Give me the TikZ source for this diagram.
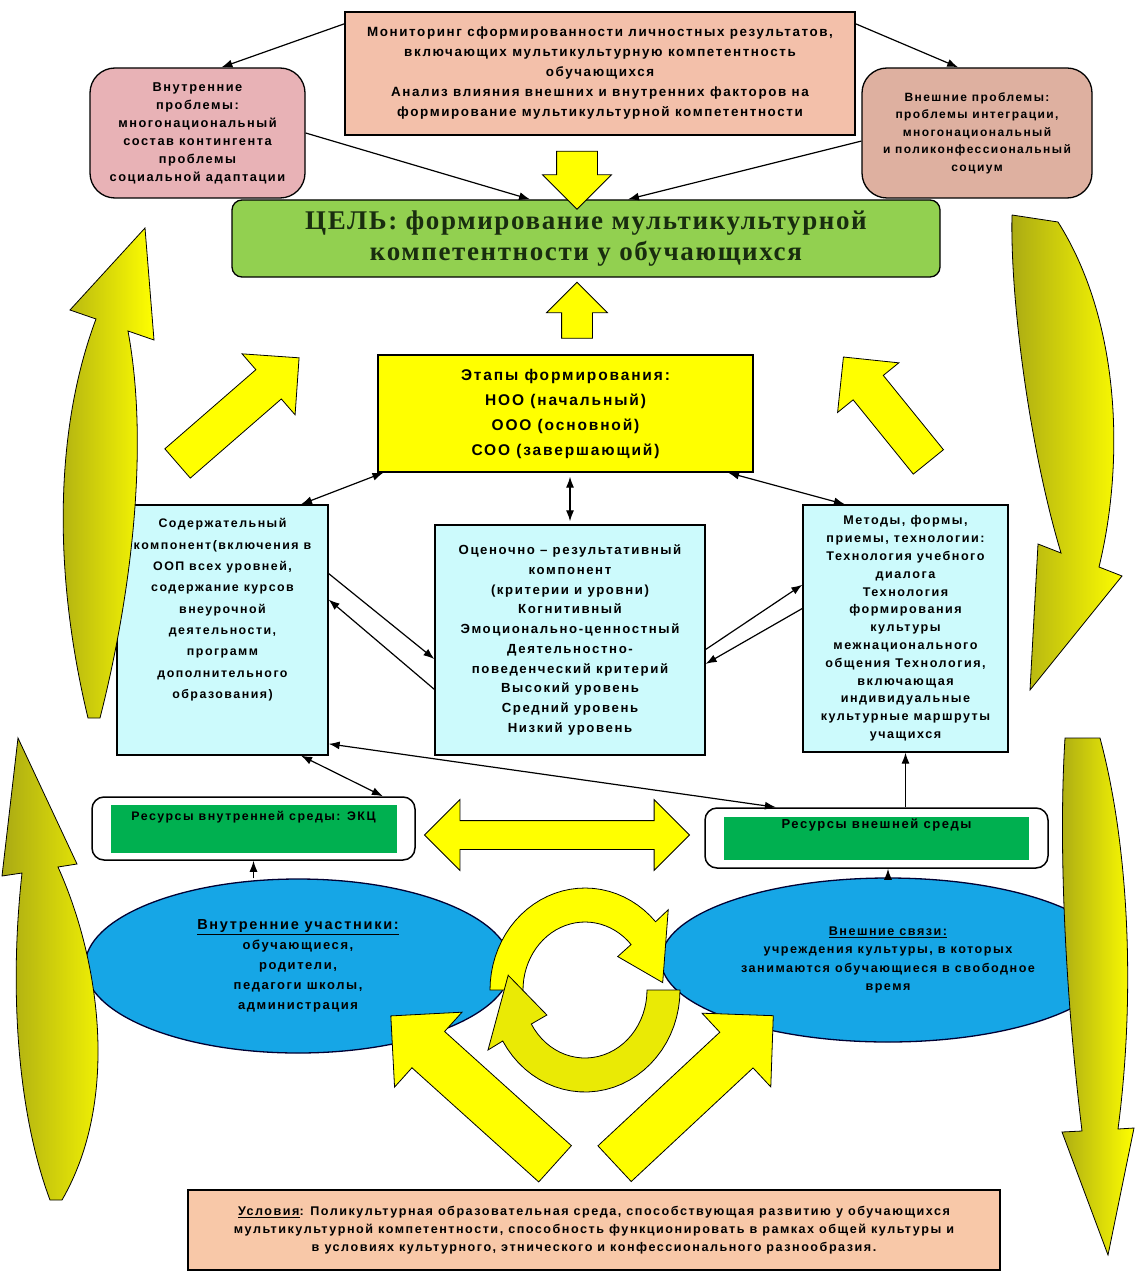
\documentclass[tikz,border=0pt]{standalone}
\usepackage{fontspec}
\setmainfont{Liberation Sans}[LetterSpace=12]
\newfontfamily\goalfont{Liberation Serif}[LetterSpace=6]
\usepackage{tikz}
\usepackage{xcolor}
\usetikzlibrary{positioning,arrows.meta,shapes.geometric,shapes.arrows}

\definecolor{monfill}{RGB}{243,192,170}
\definecolor{probin}{RGB}{232,178,182}
\definecolor{probout}{RGB}{222,176,160}
\definecolor{goalfill}{RGB}{146,208,80}
\definecolor{goaltext}{RGB}{25,45,15}
\definecolor{compfill}{RGB}{204,250,252}
\definecolor{resfill}{RGB}{0,176,80}
\definecolor{partfill}{RGB}{22,166,230}
\definecolor{condfill}{RGB}{248,200,168}
\definecolor{arrowyellow}{RGB}{255,255,0}
\definecolor{bendolive}{RGB}{170,170,20}

\newcommand{\boxfont}[2]{\bfseries\fontsize{#1}{#2}\selectfont}

\begin{document}
\begin{tikzpicture}[x=1pt, y=-1pt,
    box/.style={draw, line width=1.3pt, align=center, inner sep=2pt},
    link/.style={-{Latex[length=11pt, width=8pt]}, line width=1.2pt},
    biglink/.style={{Latex[length=11pt, width=8pt]}-{Latex[length=11pt, width=8pt]}, line width=1.2pt},
    fatarrow/.style={single arrow, draw, line width=0.8pt, fill=arrowyellow, inner xsep=0pt},
    bendarrow/.style={draw, line width=0.8pt, left color=bendolive, right color=arrowyellow},
    ringarrow/.style={draw, line width=0.8pt, fill=arrowyellow}]

    \useasboundingbox (0,0) rectangle (1137,1281);
    \fill[white] (0,0) rectangle (1137,1281);

    % goal and the boxes above it
    \node[box, fill=goalfill, rounded corners=10pt, minimum width=708pt, minimum height=77pt,
          text=goaltext, font={\goalfont\bfseries\fontsize{27}{31}\selectfont}] (goal) at (586,238.5)
          {ЦЕЛЬ: формирование мультикультурной\\ компетентности у обучающихся};

    \node[box, fill=monfill, minimum width=510pt, minimum height=123pt, font={\boxfont{13.4}{20}},
          above of=goal, node distance=165pt, xshift=14pt] (mon_box)
          {Мониторинг сформированности личностных результатов,\\ включающих мультикультурную компетентность\\ обучающихся\\ Анализ влияния внешних и внутренних факторов на\\ формирование мультикультурной компетентности};

    \node[box, fill=probin, rounded corners=25pt, minimum width=215pt, minimum height=130pt, font={\boxfont{12.8}{18}},
          left of=mon_box, node distance=402.5pt, yshift=-59.5pt] (prob_in)
          {Внутренние\\ проблемы:\\ многонациональный\\ состав контингента\\ проблемы\\ социальной адаптации};

    \node[box, fill=probout, rounded corners=25pt, minimum width=230pt, minimum height=130pt, font={\boxfont{12}{17.5}},
          right of=mon_box, node distance=377pt, yshift=-59.5pt] (prob_out)
          {Внешние проблемы:\\ проблемы интеграции,\\ многонациональный\\ и поликонфессиональный\\ социум};

    % stages and components
    \node[box, fill=arrowyellow, minimum width=375pt, minimum height=117pt, font={\boxfont{15.5}{25}},
          below of=goal, node distance=175pt, xshift=-20.5pt] (stages)
          {Этапы формирования:\\ НОО (начальный)\\ ООО (основной)\\ СОО (завершающий)};

    \node[box, fill=compfill, minimum width=270pt, minimum height=230pt, font={\boxfont{13.2}{19.7}},
          below of=stages, node distance=226.5pt, xshift=4.5pt] (comp_eval)
          {Оценочно – результативный\\ компонент\\ (критерии и уровни)\\ Когнитивный\\ Эмоционально-ценностный\\ Деятельностно-\\ поведенческий критерий\\ Высокий уровень\\ Средний уровень\\ Низкий уровень};

    \node[box, fill=compfill, minimum width=211pt, minimum height=250pt, text depth=43pt, font={\boxfont{12.4}{21.3}},
          left of=comp_eval, node distance=347.5pt, yshift=10pt] (comp_content)
          {Содержательный\\ компонент(включения в\\ ООП всех уровней,\\ содержание курсов\\ внеурочной\\ деятельности,\\ программ\\ дополнительного\\ образования)};

    \node[box, fill=compfill, minimum width=205pt, minimum height=247pt, font={\boxfont{12.6}{17.8}},
          right of=comp_eval, node distance=335.5pt, yshift=11.5pt] (comp_methods)
          {Методы, формы,\\ приемы, технологии:\\ Технология учебного\\ диалога\\ Технология\\ формирования\\ культуры\\ межнационального\\ общения Технология,\\ включающая\\ индивидуальные\\ культурные маршруты\\ учащихся};

    % resources
    \node[draw, line width=1.5pt, rounded corners=12pt, fill=white, minimum width=323pt, minimum height=63pt,
          below of=comp_content, node distance=198.5pt, xshift=31pt] (res_in_frame) {};
    \node[fill=resfill, minimum width=286pt, inner ysep=3pt, text height=13pt, text depth=29pt,
          font={\boxfont{12.4}{14}}] (res_in) at (res_in_frame) {Ресурсы внутренней среды: ЭКЦ};

    \node[draw, line width=1.5pt, rounded corners=12pt, fill=white, minimum width=343pt, minimum height=60pt,
          below of=comp_methods, node distance=209.5pt, xshift=-29pt] (res_out_frame) {};
    \node[fill=resfill, minimum width=305pt, inner ysep=2pt, text height=10pt, text depth=29pt,
          font={\boxfont{13}{14}}] (res_out) at (res_out_frame) {Ресурсы внешней среды};

    % participants
    \node[ellipse, draw=black!80!blue, line width=1.3pt, fill=partfill, inner sep=0pt, align=center,
          minimum width=426pt, minimum height=174pt, font={\boxfont{13}{20}},
          below of=res_in_frame, node distance=137.5pt, xshift=44.5pt] (part_in)
          {{\fontsize{14.5}{20}\selectfont\underline{Внутренние участники:}}\\ обучающиеся,\\ родители,\\ педагоги школы,\\ администрация};

    \node[ellipse, draw=black!80!blue, line width=1.3pt, fill=partfill, inner sep=0pt, align=center,
          minimum width=454pt, minimum height=164pt, font={\boxfont{12.6}{18.5}},
          below of=res_out_frame, node distance=122pt, xshift=11.5pt] (part_out)
          {\underline{Внешние связи:}\\ учреждения культуры, в которых\\ занимаются обучающиеся в свободное\\ время};

    \node[box, fill=condfill, minimum width=812pt, minimum height=80pt, font={\boxfont{12.6}{18}},
          below of=comp_eval, node distance=590pt, xshift=24pt] (cond)
          {\underline{Условия}: Поликультурная образовательная среда, способствующая развитию у обучающихся\\ мультикультурной компетентности, способность функционировать в рамках общей культуры и\\ в условиях культурного, этнического и конфессионального разнообразия.};

    % thin connectors
    \draw[link] (mon_box.169) -- (prob_in.70);
    \draw[link] (mon_box.11) -- (prob_out.106);
    \draw[link] (prob_in.east) -- (goal.145);
    \draw[link] (prob_out.184) -- (goal.43);
    \draw[biglink] (stages.198) -- (comp_content.58);
    \draw[biglink, shorten <=4pt, shorten >=3pt] (stages.south -| comp_eval.north) -- (comp_eval.north);
    \draw[biglink] (stages.340) -- (comp_methods.116);
    \draw[link] (comp_content.28) -- (comp_eval.188);
    \draw[link] (comp_eval.200) -- (comp_content.16);
    \draw[link] (comp_eval.356) -- (comp_methods.157);
    \draw[link] (comp_methods.169) -- (comp_eval.350);
    \draw[biglink] (comp_content.302) -- (res_in_frame.14);
    \draw[biglink] (res_out_frame.163) -- (comp_content.313);
    \draw[link] (res_out_frame.north -| comp_methods.south) -- (comp_methods.south);
    \draw[link] (res_in_frame.south |- part_in.north) -- (res_in_frame.south);
    \draw[link] (part_out.north) -- (res_out_frame.south -| part_out.north);

    % block arrows
    \node[fatarrow, minimum height=58pt, inner ysep=20pt, single arrow head extend=14pt, rotate=-90] (arr_mon) at (577,170) {};
    \node[fatarrow, minimum height=56pt, inner ysep=15pt, single arrow head extend=15pt, rotate=90] (arr_stages) at (577,318) {};
    \node[fatarrow, minimum height=161pt, inner ysep=19pt, single arrow head extend=21pt, rotate=41] (arr_left) at (231,417) {};
    \node[fatarrow, minimum height=135pt, inner ysep=19pt, single arrow head extend=20pt, rotate=129] (arr_right) at (892,417) {};
    \node[double arrow, draw, line width=0.8pt, fill=arrowyellow, inner xsep=0pt, inner ysep=14pt,
          double arrow head extend=21pt, minimum height=265pt] (arr_res) at (557,835) {};
    \node[fatarrow, minimum height=221pt, inner ysep=24pt, single arrow head extend=26pt, rotate=138] (arr_cond_in) at (482,1098) {};
    \node[fatarrow, minimum height=217pt, inner ysep=24pt, single arrow head extend=26pt, rotate=43] (arr_cond_out) at (685,1098) {};

    % circle arrows between the ellipses
    \draw[ringarrow] plot[domain=180:318, samples=30] ({585+95*cos(\x)}, {990+102*sin(\x)})
        -- ({585+112*cos(318)}, {990+120*sin(318)}) -- ({585+78*cos(355)}, {990+85*sin(355)})
        -- ({585+44*cos(318)}, {990+50*sin(318)})
        -- plot[domain=318:180, samples=30] ({585+62*cos(\x)}, {990+68*sin(\x)}) -- cycle;
    \draw[ringarrow, fill=arrowyellow!75!bendolive] plot[domain=0:150, samples=30] ({585+95*cos(\x)}, {990+102*sin(\x)})
        -- ({585+112*cos(150)}, {990+120*sin(150)}) -- ({585+78*cos(190)}, {990+85*sin(190)})
        -- ({585+44*cos(150)}, {990+50*sin(150)})
        -- plot[domain=150:0, samples=30] ({585+62*cos(\x)}, {990+68*sin(\x)}) -- cycle;

    % curved arrows at the sides
    \draw[bendarrow] (88,718) .. controls (50,560) and (58,420) .. (96,319) -- (70,310) -- (145,228)
        -- (154,340) -- (128,331) .. controls (150,450) and (130,600) .. (100,718) -- cycle;
    \draw[bendarrow] (1012,215) -- (1058,222) .. controls (1120,320) and (1125,460) .. (1099,567)
        -- (1122,576) -- (1030,690) -- (1038,544) -- (1061,553) .. controls (1030,450) and (1010,300) .. (1012,215);
    \draw[bendarrow] (18,738) -- (77,864) -- (58,867) .. controls (100,960) and (120,1100) .. (62,1200)
        -- (50,1200) .. controls (20,1120) and (8,1000) .. (22,873) -- (2,876) -- cycle;
    \draw[bendarrow] (1065,738) .. controls (1058,850) and (1066,1000) .. (1082,1131) -- (1062,1132)
        -- (1108,1255) -- (1134,1128) -- (1118,1129) .. controls (1135,1000) and (1130,850) .. (1100,738) -- cycle;
\end{tikzpicture}
\end{document}
